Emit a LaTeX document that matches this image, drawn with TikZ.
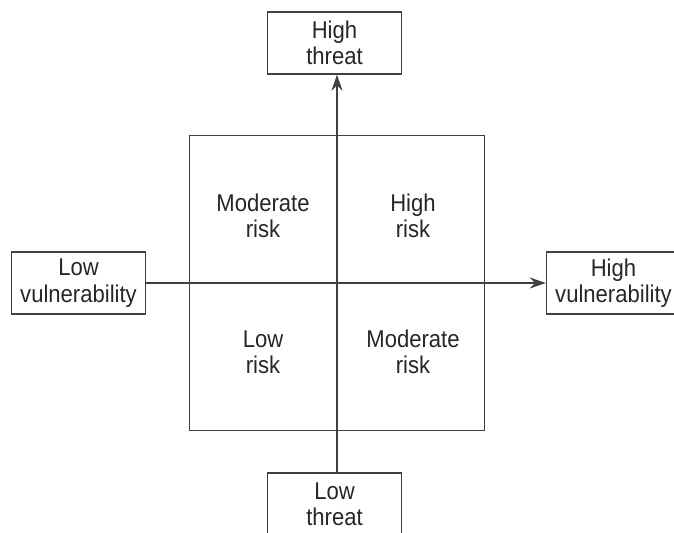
\documentclass[tikz,border=0pt]{standalone}
\usepackage{fontspec}
\setmainfont{Liberation Sans}[FakeStretch=0.91]
\usetikzlibrary{arrows.meta}
\definecolor{linegray}{HTML}{404040}
\tikzset{
  axisbox/.style={draw=linegray,line width=0.8pt,minimum width=2.68cm,minimum height=1.24cm,align=center,inner sep=0pt},
  risklabel/.style={align=center,inner sep=0pt},
  axisline/.style={draw=linegray,line width=0.8pt,-{Stealth[length=3.2mm,width=2.2mm]}}
}

\begin{document}
\begin{tikzpicture}[font=\fontsize{13.8}{15}\selectfont,text=black!85]
            \useasboundingbox (-6.74,-5.0) rectangle (6.74,5.66);

            \node[draw=linegray,line width=0.8pt,minimum size=5.9cm,inner sep=0pt] (grid) at (0,0) {};

            \node[axisbox] (highthreat) at (-0.05,4.8) {High\\threat};
            \node[axisbox] (lowthreat) at (-0.05,-4.42) {Low\\threat};
            \node[axisbox] (lowvul) at (-5.17,0) {Low\\vulnerability};
            \node[axisbox] (highvul) at (5.53,0) {High\\vulnerability};

            \node[risklabel] (topleft) at (-1.48,1.34) {Moderate\\risk};
            \node[risklabel] (topright) at (1.52,1.34) {High\\risk};
            \node[risklabel] (bottomleft) at (-1.48,-1.38) {Low\\risk};
            \node[risklabel] (bottomright) at (1.52,-1.38) {Moderate\\risk};

            \draw[axisline] (lowthreat.north -| grid.center) -- (highthreat.south -| grid.center);
            \draw[axisline] (lowvul.east) -- (highvul.west);
        \end{tikzpicture}
\end{document}
